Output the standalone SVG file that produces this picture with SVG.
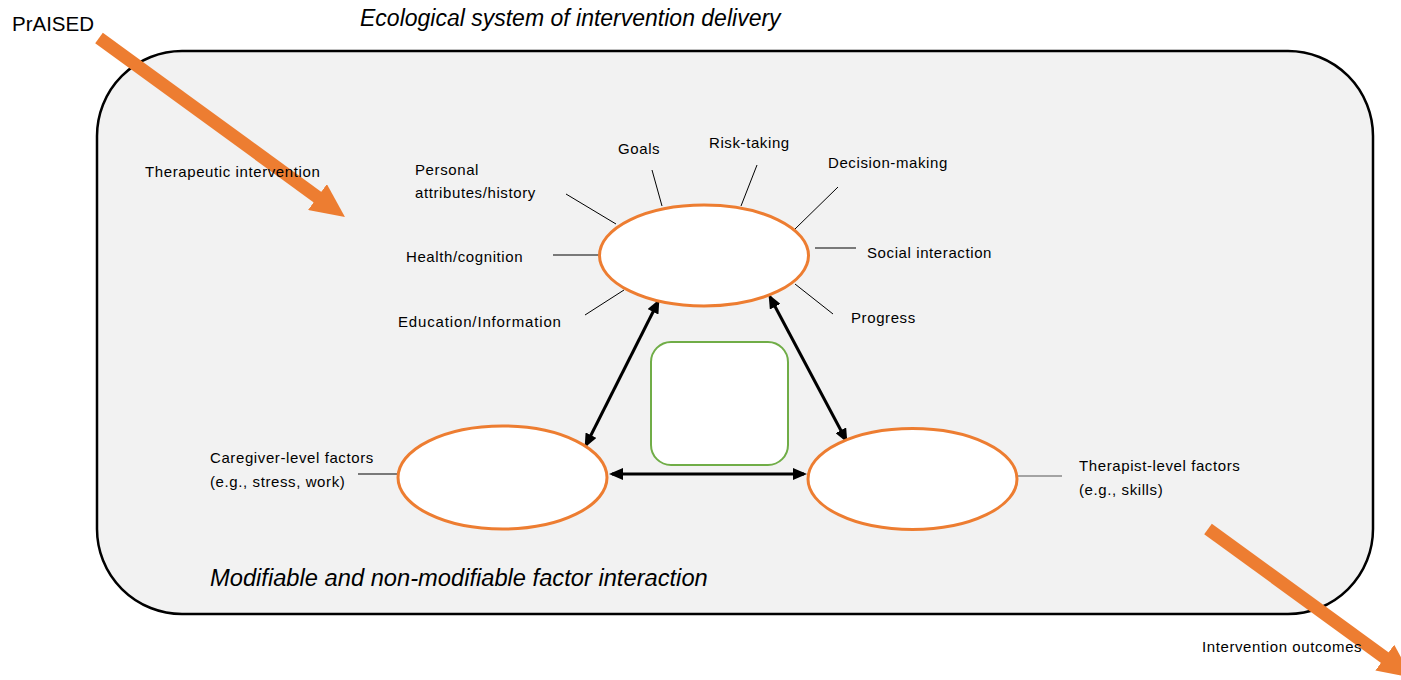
<svg xmlns="http://www.w3.org/2000/svg" width="1401" height="680" viewBox="0 0 1401 680">
  <style>
    .lbl { font-family: "Liberation Sans", Arial, sans-serif; font-size: 15px; letter-spacing: 0.6px; fill: #000; }
    .big { font-family: "Liberation Sans", Arial, sans-serif; font-style: italic; font-size: 23px; fill: #000; }
    .factor { fill: #fff; stroke: #ed7d31; stroke-width: 3; }
    .tick { stroke: #000; stroke-width: 1; fill: none; }
    .link { stroke: #000; stroke-width: 3; fill: none; marker-start: url(#head); marker-end: url(#head); }
    .flow { stroke: #ed7d31; stroke-width: 13; fill: none; marker-end: url(#bighead); }
  </style>
  <defs>
    <marker id="head" viewBox="0 0 14 12" refX="11" refY="6" markerWidth="14" markerHeight="12" markerUnits="userSpaceOnUse" orient="auto-start-reverse">
      <path d="M0,0 L14,6 L0,12 z" fill="#000"/>
    </marker>
    <marker id="bighead" viewBox="0 0 34 32" refX="4" refY="16" markerWidth="34" markerHeight="32" markerUnits="userSpaceOnUse" orient="auto">
      <path d="M0,0 L34,16 L0,32 z" fill="#ed7d31"/>
    </marker>
  </defs>

  <!-- ecological system container -->
  <g id="system">
    <rect x="97" y="51" width="1276" height="563" rx="85" ry="85" fill="#f2f2f2" stroke="#000" stroke-width="2.5"/>
  </g>

  <!-- connectors: delivery flow in and out, plus the factor interactions -->
  <g id="connectors">
    <line class="flow" x1="99" y1="38" x2="320.7" y2="199.4"/>
    <line class="flow" x1="1208" y1="529" x2="1388" y2="660"/>
    <line class="link" x1="658" y1="302" x2="586" y2="445"/>
    <line class="link" x1="770" y1="297" x2="846" y2="440"/>
    <line class="link" x1="612" y1="474" x2="804" y2="474"/>
  </g>

  <text class="big" x="360" y="26">Ecological system of intervention delivery</text>
  <text class="big" x="210" y="586" style="font-size:23.7px">Modifiable and non-modifiable factor interaction</text>
  <text x="12" y="31" font-family="Liberation Sans, Arial, sans-serif" font-size="20.5">PrAISED</text>

  <!-- spokes around the participant-level factors -->
  <g id="spokes">
    <line class="tick" x1="566" y1="194" x2="616" y2="224"/>
    <line class="tick" x1="652" y1="170" x2="662" y2="206"/>
    <line class="tick" x1="757" y1="165" x2="741" y2="206"/>
    <line class="tick" x1="838" y1="187" x2="795" y2="229"/>
    <line class="tick" x1="815" y1="248" x2="856" y2="248"/>
    <line class="tick" x1="795" y1="284" x2="833" y2="314"/>
    <line class="tick" x1="553" y1="255" x2="599" y2="255"/>
    <line class="tick" x1="585" y1="315" x2="624" y2="290"/>
    <line class="tick" x1="358" y1="474" x2="398" y2="474"/>
    <line x1="1018" y1="476" x2="1062" y2="476" stroke="#555" stroke-width="1"/>
  </g>

  <g id="spoke-labels">
    <text class="lbl" x="145" y="177">Therapeutic intervention</text>
    <text class="lbl" x="415" y="175">Personal</text>
    <text class="lbl" x="415" y="198">attributes/history</text>
    <text class="lbl" x="618" y="154">Goals</text>
    <text class="lbl" x="709" y="148">Risk-taking</text>
    <text class="lbl" x="828" y="168">Decision-making</text>
    <text class="lbl" x="867" y="258">Social interaction</text>
    <text class="lbl" x="851" y="323">Progress</text>
    <text class="lbl" x="406" y="262">Health/cognition</text>
    <text class="lbl" x="398" y="327" style="letter-spacing:0.85px">Education/Information</text>
    <text class="lbl" x="210" y="463">Caregiver-level factors</text>
    <text class="lbl" x="210" y="487">(e.g., stress, work)</text>
    <text class="lbl" x="1079" y="471">Therapist-level factors</text>
    <text class="lbl" x="1079" y="495">(e.g., skills)</text>
    <text class="lbl" x="1202" y="652">Intervention outcomes</text>
  </g>

  <!-- factor nodes -->
  <g id="participant">
    <ellipse class="factor" cx="704" cy="255.5" rx="104.5" ry="50.5"/>
  </g>
  <g id="caregiver">
    <ellipse class="factor" cx="502.5" cy="477.5" rx="104.5" ry="51.5"/>
  </g>
  <g id="therapist">
    <ellipse class="factor" cx="912.5" cy="479" rx="104.5" ry="50.5"/>
  </g>
  <g id="core">
    <rect x="651" y="342" width="137" height="123" rx="20" ry="20" fill="#fff" stroke="#70ad47" stroke-width="2"/>
  </g>
</svg>
